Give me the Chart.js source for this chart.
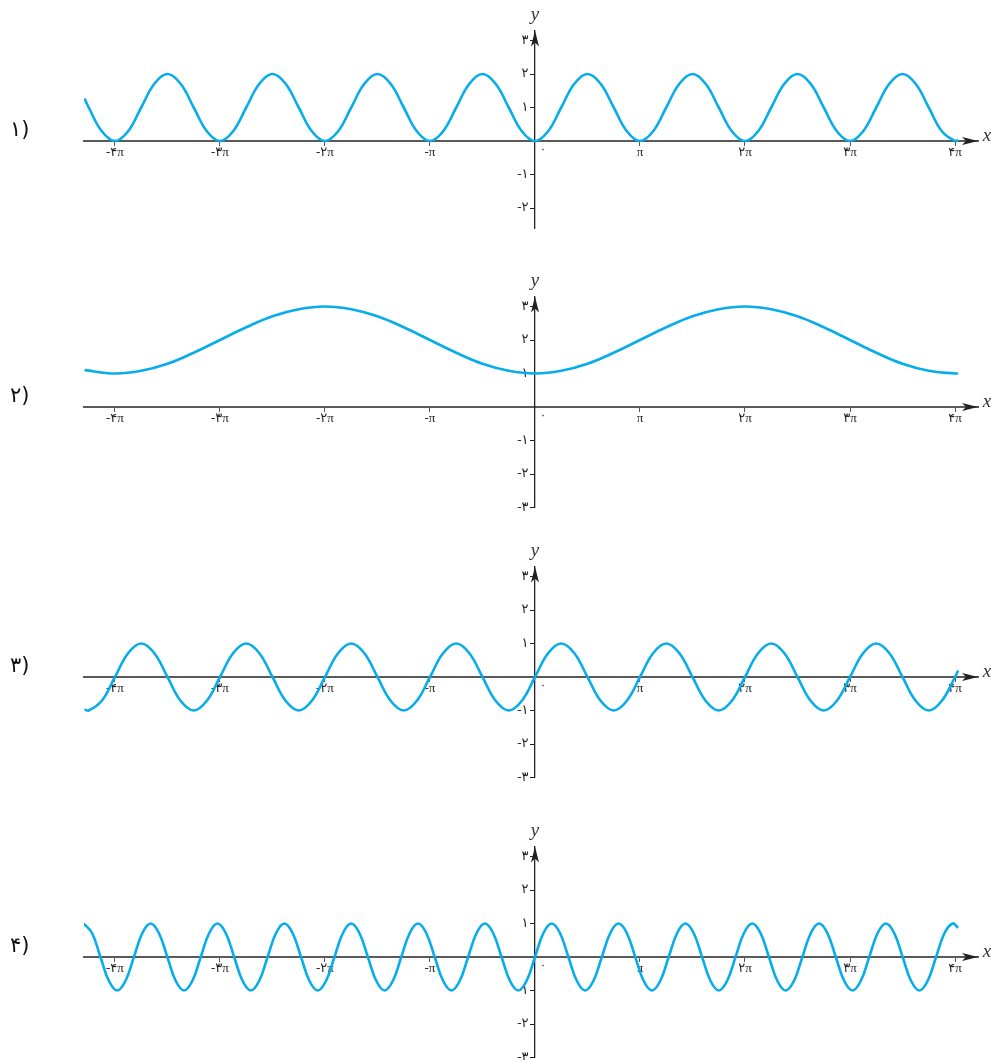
<!DOCTYPE html>
<html>
<head>
<meta charset="utf-8">
<script src="https://cdn.jsdelivr.net/npm/chart.js@4.4.1/dist/chart.umd.min.js"></script>
<style>
  html, body { margin: 0; padding: 0; background: #fff; overflow: hidden; }
  #page { position: relative; width: 991px; height: 1060px; }
  canvas { position: absolute; left: 0; }
</style>
</head>
<body>
<div id="page">
  <canvas id="c1" width="991" height="255" style="top:0px"></canvas>
  <canvas id="c2" width="991" height="255" style="top:266px"></canvas>
  <canvas id="c3" width="991" height="255" style="top:536px"></canvas>
  <canvas id="c4" width="991" height="255" style="top:816px"></canvas>
</div>
<script>
// x read in multiples of pi, charts 1 and 3 share this grid
const xEighthPi = [-4.29, -4.25, -4.125,
  -4, -3.875, -3.75, -3.625, -3.5, -3.375, -3.25, -3.125,
  -3, -2.875, -2.75, -2.625, -2.5, -2.375, -2.25, -2.125,
  -2, -1.875, -1.75, -1.625, -1.5, -1.375, -1.25, -1.125,
  -1, -0.875, -0.75, -0.625, -0.5, -0.375, -0.25, -0.125,
  0, 0.125, 0.25, 0.375, 0.5, 0.625, 0.75, 0.875,
  1, 1.125, 1.25, 1.375, 1.5, 1.625, 1.75, 1.875,
  2, 2.125, 2.25, 2.375, 2.5, 2.625, 2.75, 2.875,
  3, 3.125, 3.25, 3.375, 3.5, 3.625, 3.75, 3.875,
  4, 4.03];

const y1 = [1.27, 1, 0.29,
  0, 0.29, 1, 1.71, 2, 1.71, 1, 0.29,
  0, 0.29, 1, 1.71, 2, 1.71, 1, 0.29,
  0, 0.29, 1, 1.71, 2, 1.71, 1, 0.29,
  0, 0.29, 1, 1.71, 2, 1.71, 1, 0.29,
  0, 0.29, 1, 1.71, 2, 1.71, 1, 0.29,
  0, 0.29, 1, 1.71, 2, 1.71, 1, 0.29,
  0, 0.29, 1, 1.71, 2, 1.71, 1, 0.29,
  0, 0.29, 1, 1.71, 2, 1.71, 1, 0.29,
  0, 0.02];

const y3 = [-0.97, -1, -0.71,
  0, 0.71, 1, 0.71, 0, -0.71, -1, -0.71,
  0, 0.71, 1, 0.71, 0, -0.71, -1, -0.71,
  0, 0.71, 1, 0.71, 0, -0.71, -1, -0.71,
  0, 0.71, 1, 0.71, 0, -0.71, -1, -0.71,
  0, 0.71, 1, 0.71, 0, -0.71, -1, -0.71,
  0, 0.71, 1, 0.71, 0, -0.71, -1, -0.71,
  0, 0.71, 1, 0.71, 0, -0.71, -1, -0.71,
  0, 0.71, 1, 0.71, 0, -0.71, -1, -0.71,
  0, 0.19];

const xQuarterPi = [-4.29,
  -4, -3.75, -3.5, -3.25, -3, -2.75, -2.5, -2.25,
  -2, -1.75, -1.5, -1.25, -1, -0.75, -0.5, -0.25,
  0, 0.25, 0.5, 0.75, 1, 1.25, 1.5, 1.75,
  2, 2.25, 2.5, 2.75, 3, 3.25, 3.5, 3.75,
  4, 4.03];

const y2 = [1.10,
  1, 1.08, 1.29, 1.62, 2, 2.38, 2.71, 2.92,
  3, 2.92, 2.71, 2.38, 2, 1.62, 1.29, 1.08,
  1, 1.08, 1.29, 1.62, 2, 2.38, 2.71, 2.92,
  3, 2.92, 2.71, 2.38, 2, 1.62, 1.29, 1.08,
  1, 1.0];

// chart 4 waves are read in plain radians (period 2), converted to pi units below
const x4Rad = [-13.5, -13.25, -13, -12.75, -12.5, -12.25, -12, -11.75,
  -11.5, -11.25, -11, -10.75, -10.5, -10.25, -10, -9.75,
  -9.5, -9.25, -9, -8.75, -8.5, -8.25, -8, -7.75,
  -7.5, -7.25, -7, -6.75, -6.5, -6.25, -6, -5.75,
  -5.5, -5.25, -5, -4.75, -4.5, -4.25, -4, -3.75,
  -3.5, -3.25, -3, -2.75, -2.5, -2.25, -2, -1.75,
  -1.5, -1.25, -1, -0.75, -0.5, -0.25, 0, 0.25,
  0.5, 0.75, 1, 1.25, 1.5, 1.75, 2, 2.25,
  2.5, 2.75, 3, 3.25, 3.5, 3.75, 4, 4.25,
  4.5, 4.75, 5, 5.25, 5.5, 5.75, 6, 6.25,
  6.5, 6.75, 7, 7.25, 7.5, 7.75, 8, 8.25,
  8.5, 8.75, 9, 9.25, 9.5, 9.75, 10, 10.25,
  10.5, 10.75, 11, 11.25, 11.5, 11.75, 12, 12.25,
  12.5, 12.66];

const y4 = [1, 0.71, 0, -0.71, -1, -0.71, 0, 0.71,
  1, 0.71, 0, -0.71, -1, -0.71, 0, 0.71,
  1, 0.71, 0, -0.71, -1, -0.71, 0, 0.71,
  1, 0.71, 0, -0.71, -1, -0.71, 0, 0.71,
  1, 0.71, 0, -0.71, -1, -0.71, 0, 0.71,
  1, 0.71, 0, -0.71, -1, -0.71, 0, 0.71,
  1, 0.71, 0, -0.71, -1, -0.71, 0, 0.71,
  1, 0.71, 0, -0.71, -1, -0.71, 0, 0.71,
  1, 0.71, 0, -0.71, -1, -0.71, 0, 0.71,
  1, 0.71, 0, -0.71, -1, -0.71, 0, 0.71,
  1, 0.71, 0, -0.71, -1, -0.71, 0, 0.71,
  1, 0.71, 0, -0.71, -1, -0.71, 0, 0.71,
  1, 0.71, 0, -0.71, -1, -0.71, 0, 0.71,
  1, 0.87];

const xTickValues = [-4, -3, -2, -1, 0, 1, 2, 3, 4];
const xTickLabels = ['-۴π', '-۳π', '-۲π', '-π', '', 'π', '۲π', '۳π', '۴π'];
const yTickValues = [-3, -2, -1, 0, 1, 2, 3];
const yTickLabels = ['-۳', '-۲', '-۱', '', '۱', '۲', '۳'];
const chartNames = ['۱)', '۲)', '۳)', '۴)'];

const PX_PER_UNIT = 33.5;
const AXIS_Y = 141;      // x axis row inside every canvas
const X_MIN = -4.295;
const X_MAX = 4.219;
const Y_MAX = 3.3;
const CURVE = '#06adea';
const TEXT = '#222';
const digitFont = '"Liberation Serif", "DejaVu Sans", serif';

const axisDecor = {
  id: 'axisDecor',
  afterDraw(chart, args, opts) {
    const ctx = chart.ctx;
    const ox = chart.scales.x.getPixelForValue(0);
    const oy = chart.scales.y.getPixelForValue(0);
    const right = chart.chartArea.right;
    const top = chart.chartArea.top;
    ctx.save();
    ctx.fillStyle = '#222';
    // arrow at right end of x axis
    ctx.beginPath();
    ctx.moveTo(right, oy);
    ctx.lineTo(right - 16, oy - 4);
    ctx.lineTo(right - 12, oy);
    ctx.lineTo(right - 16, oy + 4);
    ctx.closePath();
    ctx.fill();
    // arrow at top of y axis
    ctx.beginPath();
    ctx.moveTo(ox, top);
    ctx.lineTo(ox - 4, top + 16);
    ctx.lineTo(ox, top + 12);
    ctx.lineTo(ox + 4, top + 16);
    ctx.closePath();
    ctx.fill();

    ctx.fillStyle = '#333';
    ctx.font = 'italic 19px "Liberation Serif", serif';
    ctx.textAlign = 'center';
    ctx.textBaseline = 'middle';
    ctx.fillText('x', right + 9, oy - 5);
    ctx.fillText('y', ox, top - 15);

    ctx.font = '12px "DejaVu Sans", sans-serif';
    ctx.fillText('۰', ox + 8, oy + 9);

    ctx.fillStyle = '#111';
    ctx.font = '21px "DejaVu Sans", sans-serif';
    ctx.textAlign = 'left';
    ctx.fillText(opts.name, 10, oy - 10);
    ctx.restore();
  }
};

function makeChart(canvasId, name, xs, ys, yMin) {
  const canvas = document.getElementById(canvasId);
  const points = xs.map((x, i) => ({ x: x, y: ys[i] }));
  const padTop = AXIS_Y - Y_MAX * PX_PER_UNIT;
  const padBottom = canvas.height - (AXIS_Y - yMin * PX_PER_UNIT);
  const yTicks = yTickValues.filter(v => v >= yMin);

  return new Chart(canvas, {
    type: 'line',
    data: {
      datasets: [{
        data: points,
        borderColor: CURVE,
        borderWidth: 2.6,
        pointRadius: 0,
        fill: false,
        tension: 0.4
      }]
    },
    options: {
      responsive: false,
      animation: false,
      layout: { padding: { left: 84, right: 13, top: padTop, bottom: padBottom } },
      plugins: {
        legend: { display: false },
        tooltip: { enabled: false },
        axisDecor: { name: name }
      },
      scales: {
        x: {
          type: 'linear',
          min: X_MIN,
          max: X_MAX,
          position: { y: 0 },
          afterBuildTicks: (scale) => { scale.ticks = xTickValues.map(v => ({ value: v })); },
          ticks: {
            autoSkip: false,
            maxRotation: 0,
            padding: 0,
            color: TEXT,
            font: { family: digitFont, size: 13 },
            callback: (v) => xTickLabels[xTickValues.indexOf(v)]
          },
          grid: { drawOnChartArea: false, drawTicks: true, tickLength: 4, color: '#555', lineWidth: 1 },
          border: { display: true, color: '#5a5a5a', width: 2 }
        },
        y: {
          type: 'linear',
          min: yMin,
          max: Y_MAX,
          position: { x: 0 },
          afterBuildTicks: (scale) => { scale.ticks = yTicks.map(v => ({ value: v })); },
          ticks: {
            autoSkip: false,
            color: TEXT,
            font: { family: digitFont, size: 13 },
            // en space keeps the label clear of the axis line
            callback: (v) => yTickLabels[yTickValues.indexOf(v)] + '\u2002'
          },
          grid: { drawOnChartArea: false, drawTicks: true, tickLength: 4, color: '#222', lineWidth: 1 },
          border: { display: true, color: '#222', width: 1.3 }
        }
      }
    },
    plugins: [axisDecor]
  });
}

makeChart('c1', chartNames[0], xEighthPi, y1, -2.6);
makeChart('c2', chartNames[1], xQuarterPi, y2, -3);
makeChart('c3', chartNames[2], xEighthPi, y3, -3);
makeChart('c4', chartNames[3], x4Rad.map(x => x / Math.PI), y4, -3);
</script>
</body>
</html>
